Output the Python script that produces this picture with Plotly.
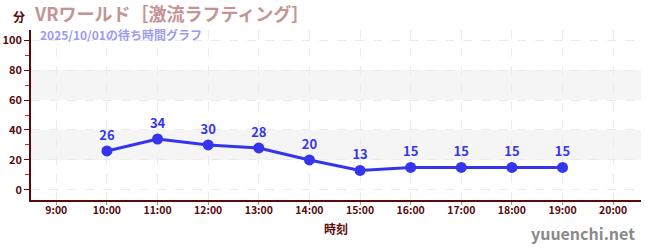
import plotly.graph_objects as go

hours = [10, 11, 12, 13, 14, 15, 16, 17, 18, 19]
waits = [26, 34, 30, 28, 20, 13, 15, 15, 15, 15]
tick_hours = list(range(9, 21))
tick_labels = [f"{h}:00" for h in tick_hours]
y_ticks = [0, 20, 40, 60, 80, 100]
bands = [(20, 40), (60, 80)]

axis_col = "#5a0a0a"
font = "Noto Sans CJK JP"

fig = go.Figure()
fig.add_trace(go.Scatter(
    x=hours, y=waits, mode="lines+markers+text",
    line=dict(color="#3535ee", width=3),
    marker=dict(color="#3535ee", size=11),
    text=[str(v) for v in waits], textposition="top center",
    textfont=dict(color="#3535ee", size=13, family=font, weight="bold"),
    cliponaxis=False, hoverinfo="skip", showlegend=False,
))

for lo, hi in bands:
    fig.add_hrect(y0=lo, y1=hi, fillcolor="#f5f5f5", line_width=0, layer="below")

fig.update_layout(
    width=650, height=250,
    margin=dict(l=31, r=9, t=30, b=50),
    paper_bgcolor="white", plot_bgcolor="white",
    font=dict(family=font, color=axis_col, size=11),
    xaxis=dict(
        range=[8.5, 20.55], tickvals=tick_hours, ticktext=tick_labels,
        showline=True, linecolor=axis_col, linewidth=1.5,
        ticks="outside", tickcolor="#999999", ticklen=3,
        ticklabelstandoff=-3,
        showgrid=True, gridcolor="#ebebeb", griddash="dash", gridwidth=1,
        zeroline=False, automargin=False,
        tickfont=dict(size=10.5, color=axis_col, family=font, weight="bold"),
        title=dict(text="<b>時刻</b>", font=dict(size=12, color=axis_col, family=font), standoff=9),
    ),
    yaxis=dict(
        range=[-6.7, 106.7], tickvals=y_ticks,
        showline=True, linecolor=axis_col, linewidth=1.5,
        ticks="outside", tickcolor=axis_col, ticklen=5,
        minor=dict(tickvals=[10, 30, 50, 70, 90], ticks="outside", ticklen=4, tickcolor="#dd2222", showgrid=False),
        showgrid=True, gridcolor="#ebebeb", griddash="dash", gridwidth=1,
        zeroline=False, automargin=False,
        tickfont=dict(size=11, color=axis_col, family=font, weight="bold"),
    ),
    annotations=[
        dict(text="<b>VRワールド［激流ラフティング］</b>", x=32, y=237,
             xanchor="left", yanchor="middle", showarrow=False,
             font=dict(size=18, color="#c49494", family=font)),
        dict(text="<b>2025/10/01の待ち時間グラフ</b>", x=38, y=216,
             xanchor="left", yanchor="middle", showarrow=False,
             font=dict(size=12, color="#9b9bf0", family=font)),
        dict(text="<b>分</b>", x=19, y=234, showarrow=False,
             xanchor="center", yanchor="middle",
             font=dict(size=12, color=axis_col, family=font)),
        dict(text="<b>yuuenchi.net</b>", x=637, y=17, showarrow=False,
             xanchor="right", yanchor="middle",
             font=dict(size=16, color="#8a8a8a", family=font)),
    ],
)

# convert pixel-positioned annotations to paper coordinates
pw, ph = 650 - 31 - 9, 250 - 30 - 50
new_ann = []
for a in fig.layout.annotations:
    a = a.to_plotly_json()
    a["xref"] = "paper"; a["yref"] = "paper"
    a["x"] = (a["x"] - 31) / pw
    a["y"] = (a["y"] - 50) / ph
    new_ann.append(a)
fig.layout.annotations = new_ann

fig.write_html("out.html")
